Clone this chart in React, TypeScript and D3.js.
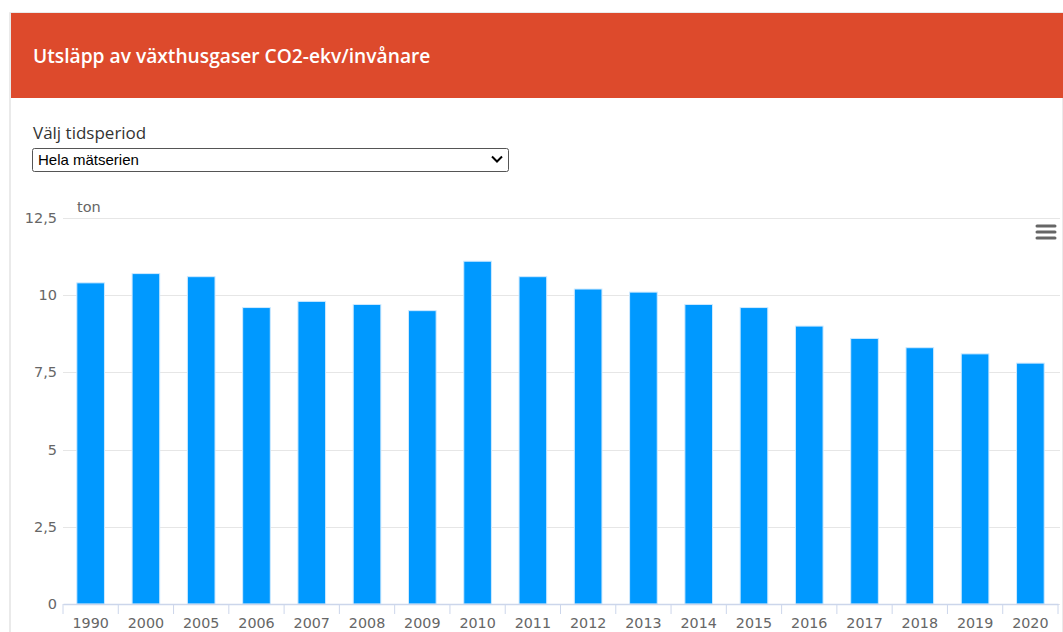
import React, { useRef, useEffect } from 'react';
import * as d3 from 'd3';

const years = ['1990', '2000', '2005', '2006', '2007', '2008', '2009', '2010', '2011', '2012', '2013', '2014', '2015', '2016', '2017', '2018', '2019', '2020'];
const tonPerCapita = [10.4, 10.7, 10.6, 9.6, 9.8, 9.7, 9.5, 11.1, 10.6, 10.2, 10.1, 9.7, 9.6, 9.0, 8.6, 8.3, 8.1, 7.8];
const yTicks = [0, 2.5, 5, 7.5, 10, 12.5];

const title = 'Utsläpp av växthusgaser CO2-ekv/invånare';
const selectLabel = 'Välj tidsperiod';
const selectValue = 'Hela mätserien';
const unitLabel = 'ton';

const W = 1063;
const H = 632;

const App = () => {
  const svgRef = useRef<SVGSVGElement>(null);

  useEffect(() => {
    const svg = d3.select(svgRef.current);
    svg.selectAll('*').remove();

    const left = 63;
    const right = 1058;
    const top = 218;
    const bottom = 604;
    const font = '"DejaVu Sans", Verdana, sans-serif';

    // card + header
    svg.append('rect').attr('x', 0).attr('y', 0).attr('width', W).attr('height', H).attr('fill', '#fff');
    svg.append('rect').attr('x', 10).attr('y', 13).attr('width', W - 10).attr('height', H).attr('fill', '#fff')
      .attr('stroke', '#e3e3e3').attr('stroke-width', 1.5);
    svg.append('rect').attr('x', 11).attr('y', 13).attr('width', W - 11).attr('height', 85).attr('fill', '#dd4a2c');
    svg.append('text').attr('x', 33).attr('y', 63).text(title)
      .attr('fill', '#fff').attr('font-family', '"Open Sans", sans-serif').attr('font-weight', 600).attr('font-size', 19.2);

    // period select
    svg.append('text').attr('x', 33).attr('y', 139).text(selectLabel)
      .attr('fill', '#333').attr('font-family', '"Open Sans", sans-serif').attr('font-size', 17);
    svg.append('rect').attr('x', 32.5).attr('y', 148.5).attr('width', 476).attr('height', 23).attr('rx', 2)
      .attr('fill', '#fff').attr('stroke', '#555').attr('stroke-width', 1);
    svg.append('text').attr('x', 38).attr('y', 165).text(selectValue)
      .attr('fill', '#000').attr('font-family', '"Liberation Sans", Arial, sans-serif').attr('font-size', 15);
    svg.append('path').attr('d', 'M492,156.5 L497,161.5 L502,156.5')
      .attr('fill', 'none').attr('stroke', '#000').attr('stroke-width', 2);

    const x = d3.scaleBand().domain(years).range([left, right]).padding(0);
    const y = d3.scaleLinear().domain([0, 12.5]).range([bottom, top]);

    // grid
    svg.append('g').selectAll('line').data(yTicks).enter().append('line')
      .attr('x1', left).attr('x2', W - 3)
      .attr('y1', (d) => Math.round(y(d)) + 0.5).attr('y2', (d) => Math.round(y(d)) + 0.5)
      .attr('stroke', '#e6e6e6').attr('stroke-width', 1);

    // y labels
    const fmt = (d: number) => String(d).replace('.', ',');
    svg.append('g').selectAll('text').data(yTicks).enter().append('text')
      .attr('x', 57).attr('y', (d) => y(d) + 5).attr('text-anchor', 'end')
      .attr('fill', '#666').attr('font-family', font).attr('font-size', 14.5).text(fmt);

    svg.append('text').attr('x', 77).attr('y', 212).text(unitLabel)
      .attr('fill', '#666').attr('font-family', font).attr('font-size', 14.5);

    // bars
    const bw = x.bandwidth() * 0.5;
    svg.append('g').selectAll('rect').data(tonPerCapita).enter().append('rect')
      .attr('x', (d, i) => (x(years[i]) as number) + (x.bandwidth() - bw) / 2)
      .attr('y', (d) => y(d))
      .attr('width', bw)
      .attr('height', (d) => bottom - y(d))
      .attr('fill', '#0099ff')
      .attr('stroke', '#cfeaff').attr('stroke-width', 1);

    // x axis
    const xAxis = d3.axisBottom(x).tickSize(0).tickPadding(14);
    const gx = svg.append('g').attr('transform', `translate(0, ${bottom})`).call(xAxis);
    gx.select('.domain').attr('stroke', '#ccd6eb').attr('stroke-width', 1.5);
    gx.selectAll('text').attr('fill', '#666').attr('font-family', font).attr('font-size', 14.3);
    svg.append('g').selectAll('line').data(years.concat([''])).enter().append('line')
      .attr('x1', (d, i) => left + i * x.step()).attr('x2', (d, i) => left + i * x.step())
      .attr('y1', bottom).attr('y2', bottom + 10)
      .attr('stroke', '#ccd6eb').attr('stroke-width', 1);

    // menu icon
    svg.append('g').selectAll('line').data([0, 1, 2]).enter().append('line')
      .attr('x1', 1037).attr('x2', 1055)
      .attr('y1', (d) => 226 + d * 6).attr('y2', (d) => 226 + d * 6)
      .attr('stroke', '#666').attr('stroke-width', 3).attr('stroke-linecap', 'round');
  }, []);

  return (
    <svg ref={svgRef} width={W} height={H} style={{ position: 'absolute', left: 0, top: 0, display: 'block' }}></svg>
  );
};

export default App;
